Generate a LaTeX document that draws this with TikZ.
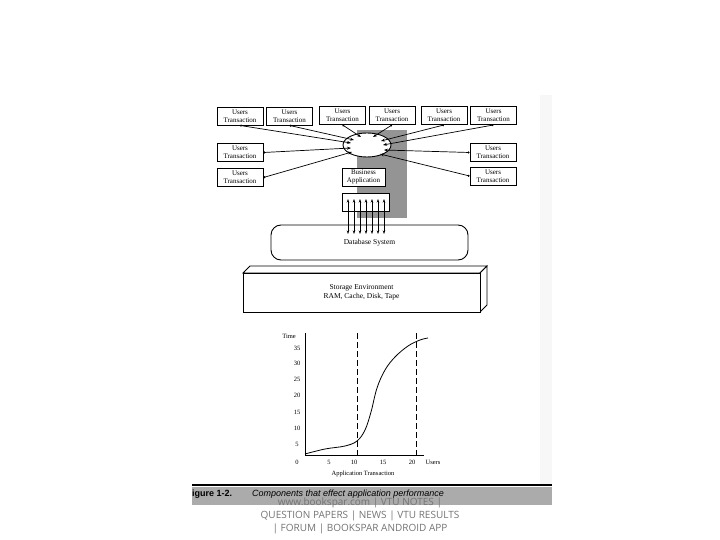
\documentclass[tikz,border=0pt]{standalone}
\usepackage{fontspec}
\setmainfont{Liberation Serif}
\newfontfamily\capfont{Liberation Sans}
\newfontfamily\wmfont{Open Sans}
\usetikzlibrary{shapes.geometric,arrows.meta}
\begin{document}
\begin{tikzpicture}[x=1pt,y=-1pt,
  ubox/.style={draw,line width=0.9pt,fill=white,minimum width=46pt,minimum height=18pt,inner sep=0pt,align=center,font=\fontsize{7}{7.6}\selectfont},
  feed/.style={line width=0.7pt,{Circle[length=2pt]}-{Stealth[length=4pt,width=3pt]}},
  dbarrow/.style={line width=0.7pt,{Stealth[length=3.5pt,width=2.5pt]}-{Stealth[length=3.5pt,width=2.5pt]}},
  lbl/.style={font=\fontsize{6.5}{7}\selectfont,inner sep=0pt},
  wm/.style={font=\wmfont\fontsize{10}{11}\selectfont,text=black!55,inner sep=0pt}]
\useasboundingbox (0,0) rectangle (720,540);
% scan page tint at the right edge
\fill[black!3] (540,95) rectangle (552,485);
% shaded block behind the application
\fill[black!42] (357,130) rectangle (407,218);
% top row of users
\node[ubox] (b1) at (240,116) {Users\\Transaction};
\node[ubox] (b2) at (289.5,116) {Users\\Transaction};
\node[ubox] (b3) at (342.5,115.5) {Users\\Transaction};
\node[ubox] (b4) at (392,115.5) {Users\\Transaction};
\node[ubox] (b5) at (444,115.5) {Users\\Transaction};
\node[ubox] (b6) at (493.5,115.5) {Users\\Transaction};
\node[ubox] (l1) at (240,152.5) {Users\\Transaction};
\node[ubox] (l2) at (240,177.5) {Users\\Transaction};
\node[ubox] (r1) at (493,152.5) {Users\\Transaction};
\node[ubox] (r2) at (493,176) {Users\\Transaction};
% hub
\node[ellipse,draw,line width=0.9pt,fill=white,minimum width=48pt,minimum height=24pt,inner sep=0pt] (hub) at (367,145) {};
\coordinate (e1) at (351,143);
\coordinate (e2) at (354,140);
\coordinate (e3) at (361,137);
\coordinate (e4) at (373,137);
\coordinate (e5) at (381,141);
\coordinate (e6) at (383,145);
\coordinate (e7) at (351,148);
\coordinate (e8) at (352,152);
\coordinate (e9) at (384,150);
\coordinate (e10) at (380,154);
\draw[feed] (b1.south) -- (e1);
\draw[feed] (b2.south) -- (e2);
\draw[feed] (b3.south) -- (e3);
\draw[feed] (b4.south) -- (e4);
\draw[feed] (b5.south) -- (e5);
\draw[feed] (b6.south) -- (e6);
\draw[feed] (l1.east) -- (e7);
\draw[feed] (l2.east) -- (e8);
\draw[feed] (r1.west) -- (e9);
\draw[feed] (r2.west) -- (e10);
% business application
\node[ubox,minimum width=43pt] (ba) at (363.5,177) {Business\\Application};
\node[draw,line width=0.9pt,fill=white,minimum width=47pt,minimum height=18pt,inner sep=0pt] (io) at (365.5,202) {};
% database
\node[draw,line width=0.9pt,rounded corners=10pt,minimum width=197pt,minimum height=35pt,inner sep=0pt,font=\fontsize{7.5}{8}\selectfont] (db) at (369.5,242.5) {Database System};
\foreach \i/\x in {1/348,2/354,3/360,4/366,5/372,6/378,7/384}{
  \coordinate (u\i) at (\x,199);
  \coordinate (d\i) at (\x,234);
  \draw[dbarrow] (u\i) -- (d\i);
}
% storage environment
\draw[line width=0.9pt,fill=white] (243,273) -- (250,266) -- (487,266) -- (480,273) -- cycle;
\draw[line width=0.9pt,fill=white] (480,273) -- (487,266) -- (487,305) -- (480,312) -- cycle;
\node[draw,line width=0.9pt,fill=white,minimum width=237pt,minimum height=39pt,inner sep=0pt,align=center,font=\fontsize{7.5}{9}\selectfont] (st) at (361.5,292.5) {Storage Environment\\RAM, Cache, Disk, Tape};
% graph
\coordinate (o) at (305,455);
\coordinate (ytop) at (305,333);
\coordinate (xend) at (424,455);
\draw[line width=0.8pt] (ytop) -- (o) -- (xend);
\node[lbl] (tl) at (289,336) {Time};
\foreach \v/\y in {35/348,30/363,25/379,20/395,15/412,10/428,5/444}{
  \node[lbl] (y\v) at (297,\y) {\v};
}
\foreach \v/\x in {0/297,5/329,10/354,15/383,20/412}{
  \node[lbl] (x\v) at (\x,462) {\v};
}
\node[lbl] (xu) at (433,462) {Users};
\node[lbl] (xt) at (363,474) {Application Transaction};
\coordinate (da) at (357,333);
\coordinate (db2) at (357,455);
\coordinate (dc) at (416,333);
\coordinate (dd) at (416,455);
\draw[line width=0.8pt,dash pattern=on 6pt off 3pt] (da) -- (db2);
\draw[line width=0.8pt,dash pattern=on 6pt off 3pt] (dc) -- (dd);
\draw[line width=0.8pt] plot[smooth,tension=0.6] coordinates {(305,454) (325,449) (345,446) (357,441) (365,430) (371,412) (377,388) (385,370) (395,357) (408,346) (420,340) (428,338)};
% caption band
\fill[black!33] (192,487) rectangle (552,505);
\draw[line width=2.5pt] (192,485) -- (552,485);
\node[anchor=west,inner sep=0pt,font=\capfont\bfseries\fontsize{9}{10}\selectfont] (fig) at (192,494) {igure 1-2.};
\node[anchor=west,inner sep=0pt,font=\capfont\itshape\fontsize{9}{10}\selectfont] (cap) at (252,494) {Components that effect application performance};
% watermark
\node[wm] (w1) at (360,503) {www.bookspar.com | VTU NOTES |};
\node[wm] (w2) at (360,516) {QUESTION PAPERS | NEWS | VTU RESULTS};
\node[wm] (w3) at (360,529) {| FORUM | BOOKSPAR ANDROID APP};
\end{tikzpicture}
\end{document}
